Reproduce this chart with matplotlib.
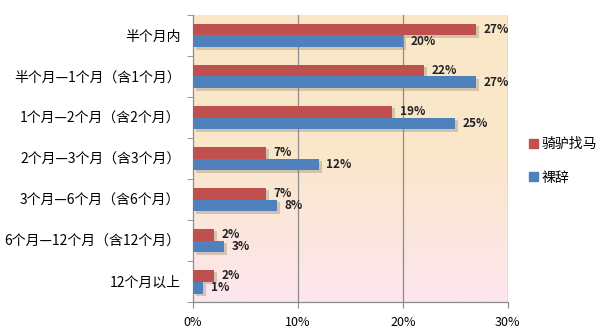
import matplotlib
matplotlib.use("Agg")
import matplotlib.pyplot as plt
import matplotlib.patheffects as pe
from matplotlib.patches import Patch
from matplotlib.colors import LinearSegmentedColormap
import numpy as np

plt.rcParams["font.family"] = ["Noto Sans CJK SC", "DejaVu Sans"]

categories = ["半个月内", "半个月—1个月（含1个月）", "1个月—2个月（含2个月）",
              "2个月—3个月（含3个月）", "3个月—6个月（含6个月）",
              "6个月—12个月（含12个月）", "12个月以上"]
series_names = ["骑驴找马", "裸辞"]
riding = [27, 22, 19, 7, 7, 2, 2]
quit_now = [20, 27, 25, 12, 8, 3, 1]
xticks = [0, 10, 20, 30]

RED = "#C0504D"
BLUE = "#4F81BD"

fig = plt.figure(figsize=(6.01, 3.32), dpi=100)
ax = fig.add_axes([0.321, 0.090, 0.524, 0.865])

# gradient fill of the plot area: beige at top, pale pink at bottom
grad = LinearSegmentedColormap.from_list("bg", ["#FDE6EE", "#FAE7CB", "#FAE8C8"])
ax.imshow(np.linspace(0, 1, 256).reshape(-1, 1), cmap=grad, aspect="auto",
          extent=[0, 30, -0.5, len(categories) - 0.5], origin="lower", zorder=0)

y = np.arange(len(categories))[::-1]
h = 0.29
shadow = [pe.SimplePatchShadow(offset=(2, -2), shadow_rgbFace="#8a8070", alpha=0.35),
          pe.Normal()]
b1 = ax.barh(y + h / 2, riding, height=h, color=RED, zorder=3, path_effects=shadow)
b2 = ax.barh(y - h / 2, quit_now, height=h, color=BLUE, zorder=3, path_effects=shadow)

for bars, vals in ((b1, riding), (b2, quit_now)):
    for bar, v in zip(bars, vals):
        ax.text(v + 0.7, bar.get_y() + bar.get_height() / 2, f"{v}%",
                ha="left", va="center", fontsize=8.5, fontweight="bold",
                color="#222222", zorder=4)

ax.set_xlim(0, 30)
ax.set_ylim(-0.5, len(categories) - 0.5)
ax.set_xticks(xticks)
ax.set_xticklabels([f"{t}%" for t in xticks], fontsize=9)
ax.set_yticks(y)
ax.set_yticklabels(categories, fontsize=10)
ax.set_yticks(np.arange(len(categories) + 1) - 0.5, minor=True)
ax.tick_params(axis="y", which="major", length=0, pad=9)
ax.tick_params(axis="y", which="minor", length=4, color="#888888")
ax.tick_params(axis="x", length=4, color="#888888", pad=6)
for x in xticks[1:]:
    ax.axvline(x, color="#8c8c8c", lw=0.9, zorder=1)
for s in ("top", "right"):
    ax.spines[s].set_visible(False)
for s in ("left", "bottom"):
    ax.spines[s].set_color("#8c8c8c")
    ax.spines[s].set_linewidth(0.9)

handles = [Patch(color=RED), Patch(color=BLUE)]
fig.legend(handles=handles, labels=series_names, loc="upper left",
           bbox_to_anchor=(0.86, 0.625), frameon=False, fontsize=10,
           handlelength=0.6, handleheight=0.6, handletextpad=0.3,
           labelspacing=1.4)

fig.savefig("out.png", dpi=100)
plt.close()
